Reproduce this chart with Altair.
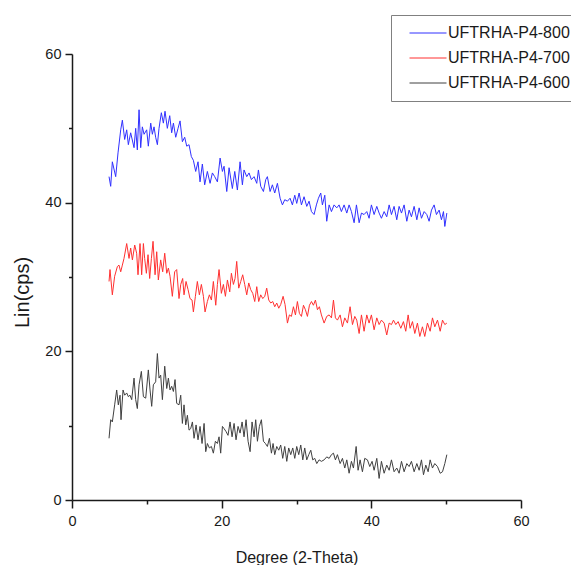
import altair as alt
import pandas as pd

labels = ["UFTRHA-P4-800", "UFTRHA-P4-700", "UFTRHA-P4-600"]
colors = ["#3030ff", "#ff3030", "#404040"]
x_ticks = [0, 10, 20, 30, 40, 50, 60]
y_ticks = [0, 10, 20, 30, 40, 50, 60]

x800 = [4.95, 5.17, 5.39, 5.84, 6.15, 6.51, 6.73, 7.04, 7.31, 7.53,
        7.84, 8.29, 8.51, 8.73, 8.96, 9.18, 9.40, 9.63, 9.98, 10.20,
        10.52, 10.74, 10.96, 11.18, 11.41, 11.63, 11.94, 12.21, 12.43, 12.74,
        13.06, 13.32, 13.55, 13.86, 14.17, 14.44, 14.75, 15.06, 15.33, 15.64,
        15.95, 16.22, 16.53, 16.84, 17.11, 17.42, 17.73, 18.09, 18.45, 18.76,
        19.07, 19.43, 19.79, 20.10, 20.32, 20.68, 20.99, 21.43, 21.75, 22.10,
        22.46, 22.77, 22.99, 23.35, 23.66, 23.97, 24.33, 24.69, 24.91, 25.22,
        25.58, 25.89, 26.11, 26.47, 26.78, 27.09, 27.45, 27.81, 28.12, 28.43,
        28.79, 29.14, 29.45, 29.77, 30.03, 30.35, 30.66, 31.01, 31.37, 31.68,
        32.00, 32.35, 32.66, 32.93, 33.24, 33.46, 33.78, 34.04, 34.36, 34.67,
        35.02, 35.38, 35.69, 36.00, 36.36, 36.72, 37.03, 37.34, 37.70, 38.01,
        38.37, 38.68, 39.03, 39.39, 39.70, 40.01, 40.37, 40.73, 41.04, 41.35,
        41.71, 42.06, 42.38, 42.69, 43.04, 43.40, 43.71, 44.03, 44.38, 44.74,
        45.05, 45.36, 45.72, 46.08, 46.39, 46.70, 47.06, 47.41, 47.72, 48.04,
        48.39, 48.70, 49.06, 49.37, 49.64, 49.82, 50.09]
y800 = [43.5, 42.2, 45.5, 43.5, 46.7, 49.8, 51.1, 48.5, 49.8, 47.8,
        49.4, 47.4, 50.0, 47.1, 52.5, 47.4, 50.2, 49.2, 49.8, 47.6,
        50.7, 49.2, 50.2, 48.8, 47.8, 50.0, 52.1, 50.7, 52.3, 50.0,
        51.7, 49.4, 50.7, 48.8, 50.0, 51.0, 48.2, 48.8, 47.6, 47.8,
        46.2, 45.7, 44.2, 45.5, 42.8, 45.2, 42.4, 44.2, 42.6, 44.0,
        43.5, 42.8, 46.0, 44.2, 44.9, 41.5, 44.7, 41.9, 44.2, 41.7,
        45.5, 42.4, 44.4, 43.5, 44.0, 43.1, 43.5, 42.6, 44.4, 42.2,
        41.5, 43.1, 43.5, 41.5, 42.4, 41.3, 42.6, 40.6, 39.7, 40.4,
        40.2, 40.6, 39.7, 41.0, 39.9, 41.3, 39.7, 40.8, 39.5, 40.2,
        38.8, 38.4, 39.7, 40.6, 41.3, 39.7, 41.0, 37.5, 39.7, 38.8,
        39.7, 39.3, 39.7, 38.8, 39.7, 38.6, 39.7, 38.8, 37.3, 39.7,
        37.3, 38.6, 38.4, 38.8, 37.9, 39.7, 38.4, 39.5, 38.6, 37.9,
        38.8, 38.1, 39.7, 38.4, 39.5, 37.7, 39.5, 38.6, 39.7, 37.5,
        39.0, 38.1, 39.5, 37.7, 39.3, 37.9, 38.8, 38.4, 37.5, 39.0,
        39.7, 38.4, 39.0, 37.7, 38.8, 36.8, 38.6]

x700 = [4.95, 5.08, 5.39, 5.70, 6.06, 6.28, 6.51, 6.73, 6.95, 7.31,
        7.62, 7.84, 8.07, 8.38, 8.64, 8.82, 9.09, 9.31, 9.54, 9.71,
        9.94, 10.16, 10.38, 10.61, 10.83, 11.10, 11.32, 11.54, 11.85, 12.12,
        12.39, 12.66, 12.88, 13.10, 13.41, 13.72, 13.99, 14.30, 14.53, 14.79,
        14.97, 15.24, 15.51, 15.77, 16.04, 16.22, 16.49, 16.75, 17.02, 17.29,
        17.56, 17.78, 18.09, 18.36, 18.63, 18.89, 19.21, 19.43, 19.65, 19.96,
        20.23, 20.50, 20.77, 21.08, 21.30, 21.57, 21.79, 22.01, 22.28, 22.55,
        22.81, 23.08, 23.35, 23.62, 23.88, 24.15, 24.42, 24.69, 24.95, 25.22,
        25.49, 25.76, 26.02, 26.29, 26.56, 26.83, 27.09, 27.36, 27.63, 27.89,
        28.21, 28.47, 28.79, 29.05, 29.32, 29.59, 29.86, 30.12, 30.39, 30.66,
        30.93, 31.19, 31.46, 31.73, 32.00, 32.26, 32.53, 32.80, 33.06, 33.33,
        33.69, 34.04, 34.36, 34.67, 34.94, 35.20, 35.47, 35.83, 36.14, 36.45,
        36.81, 37.16, 37.48, 37.79, 38.05, 38.37, 38.68, 39.03, 39.39, 39.70,
        40.01, 40.37, 40.73, 41.04, 41.35, 41.71, 42.06, 42.38, 42.69, 42.96,
        43.27, 43.58, 43.94, 44.29, 44.60, 44.92, 45.18, 45.50, 45.81, 46.16,
        46.48, 46.83, 47.14, 47.50, 47.86, 48.17, 48.48, 48.84, 49.20, 49.51,
        49.82, 50.09]
y700 = [29.4, 31.0, 27.6, 30.1, 31.4, 31.6, 30.7, 31.6, 32.5, 34.5,
        32.5, 33.9, 32.3, 34.3, 33.2, 30.3, 34.5, 30.3, 34.5, 32.5,
        30.5, 33.0, 29.8, 32.5, 34.8, 30.3, 33.4, 29.6, 32.3, 30.7,
        33.2, 30.5, 31.2, 30.1, 27.4, 30.7, 31.0, 27.1, 29.0, 29.8,
        27.6, 29.4, 28.3, 27.1, 26.9, 25.3, 27.4, 29.4, 27.6, 29.0,
        27.4, 25.3, 26.7, 27.6, 26.9, 29.4, 26.2, 29.0, 31.0, 27.8,
        29.0, 27.4, 29.6, 28.0, 30.5, 29.0, 29.8, 32.1, 28.5, 29.4,
        30.3, 29.0, 27.6, 29.2, 28.3, 27.8, 26.7, 28.7, 26.7, 27.6,
        27.1, 27.4, 28.5, 26.9, 26.5, 26.7, 26.0, 26.5, 25.8, 26.3,
        27.4, 26.3, 23.8, 24.9, 24.7, 26.0, 24.9, 26.7, 25.1, 24.7,
        26.2, 25.6, 24.7, 26.2, 26.7, 26.2, 26.9, 25.6, 26.0, 24.9,
        23.8, 24.7, 24.9, 24.5, 26.9, 24.5, 24.2, 24.9, 23.3, 24.5,
        23.8, 26.0, 23.6, 24.7, 24.2, 22.4, 24.9, 22.7, 24.9, 23.8,
        24.9, 22.9, 24.5, 23.6, 24.2, 23.8, 22.2, 23.8, 23.6, 24.2,
        23.6, 24.0, 23.1, 24.0, 22.7, 24.9, 23.1, 24.0, 22.4, 23.8,
        22.0, 23.3, 22.0, 23.8, 22.7, 24.5, 23.3, 24.2, 22.7, 24.2,
        23.6, 23.8]

x600 = [4.95, 5.17, 5.39, 5.70, 5.97, 6.19, 6.42, 6.55, 6.82, 7.04,
        7.31, 7.53, 7.75, 7.98, 8.29, 8.51, 8.73, 8.96, 9.27, 9.54,
        9.85, 10.20, 10.43, 10.65, 10.87, 11.18, 11.41, 11.63, 11.85, 12.08,
        12.39, 12.66, 12.88, 13.10, 13.32, 13.55, 13.77, 13.99, 14.30, 14.53,
        14.75, 14.97, 15.20, 15.42, 15.64, 15.86, 16.09, 16.31, 16.58, 16.84,
        17.11, 17.38, 17.65, 17.87, 18.09, 18.36, 18.63, 18.89, 19.16, 19.43,
        19.65, 19.87, 20.10, 20.32, 20.59, 20.85, 21.12, 21.39, 21.66, 21.92,
        22.19, 22.46, 22.73, 22.99, 23.26, 23.53, 23.80, 24.06, 24.33, 24.55,
        24.78, 25.04, 25.31, 25.58, 25.85, 26.11, 26.38, 26.65, 26.87, 27.09,
        27.36, 27.63, 27.89, 28.16, 28.43, 28.70, 28.96, 29.23, 29.50, 29.77,
        30.03, 30.30, 30.57, 30.84, 31.10, 31.37, 31.64, 31.91, 32.17, 32.44,
        32.71, 33.02, 33.33, 33.69, 34.04, 34.36, 34.67, 34.94, 35.20, 35.47,
        35.83, 36.14, 36.45, 36.72, 37.03, 37.34, 37.61, 37.97, 38.23, 38.50,
        38.81, 39.12, 39.48, 39.79, 40.10, 40.37, 40.73, 41.04, 41.35, 41.71,
        42.06, 42.38, 42.69, 43.04, 43.40, 43.71, 44.03, 44.38, 44.74, 45.05,
        45.36, 45.72, 46.08, 46.39, 46.70, 46.97, 47.28, 47.59, 47.86, 48.17,
        48.48, 48.84, 49.20, 49.51, 49.82, 50.09]
y600 = [8.3, 10.8, 10.5, 12.8, 14.8, 12.8, 14.1, 10.8, 14.8, 14.1,
        14.4, 13.9, 14.1, 13.5, 16.4, 13.5, 12.3, 15.5, 17.3, 13.9,
        13.7, 17.5, 14.8, 12.6, 15.5, 15.9, 19.7, 16.4, 16.8, 13.5,
        18.0, 15.0, 16.4, 14.8, 15.3, 14.6, 16.2, 13.0, 12.8, 14.1,
        10.3, 12.8, 10.1, 11.4, 9.4, 9.6, 10.5, 8.3, 10.1, 8.1,
        9.9, 7.6, 10.3, 6.5, 7.6, 7.0, 7.2, 6.3, 7.9, 7.6,
        8.5, 6.3, 9.9, 9.6, 9.2, 8.7, 10.5, 8.5, 10.3, 8.1,
        9.9, 9.0, 10.5, 8.5, 10.8, 7.9, 6.5, 10.5, 8.5, 10.8,
        7.9, 9.9, 10.8, 7.9, 7.6, 7.2, 8.3, 6.3, 7.6, 6.1,
        7.2, 6.7, 7.4, 5.6, 7.2, 5.2, 7.0, 6.1, 7.0, 5.6,
        7.2, 6.1, 7.4, 5.4, 7.0, 5.4, 6.1, 6.7, 5.4, 5.6,
        4.9, 5.4, 5.2, 5.4, 5.8, 5.6, 6.1, 6.3, 5.4, 6.1,
        4.9, 5.6, 4.3, 5.4, 3.6, 5.2, 4.3, 7.2, 4.0, 5.4,
        3.8, 5.6, 5.4, 4.5, 5.2, 4.0, 5.6, 2.9, 5.2, 3.6,
        4.7, 4.0, 5.4, 3.8, 4.3, 3.6, 5.2, 3.8, 4.9, 4.5,
        5.2, 3.8, 4.9, 4.0, 5.4, 3.4, 4.7, 3.8, 5.4, 4.3,
        4.9, 4.5, 3.6, 3.8, 4.9, 6.1]

rows = []
for lab, xs, ys in zip(labels, [x800, x700, x600], [y800, y700, y600]):
    for a, b in zip(xs, ys):
        rows.append({"series": lab, "deg": a, "cps": b})
df = pd.DataFrame(rows)

FONT = "Liberation Sans, Arial, sans-serif"
INK = "#1a1a1a"
MAJOR = "datum.value % 20 === 0"

x_scale = alt.Scale(domain=[0, 60], nice=False, zero=False)
y_scale = alt.Scale(domain=[0, 60], nice=False)

chart = alt.Chart(df).mark_line(strokeWidth=1).encode(
    x=alt.X("deg:Q", scale=x_scale, axis=alt.Axis(
        orient="bottom", values=x_ticks, grid=False, labelFlush=False,
        tickSize={"condition": {"test": MAJOR, "value": 8}, "value": 4},
        tickWidth=1.5, tickColor=INK,
        domainColor=INK, domainWidth=1.5,
        labelExpr=MAJOR + " ? datum.label : ''",
        labelFont=FONT, labelFontSize=14.5, labelColor=INK, labelPadding=6,
        title="Degree (2-Theta)", titleFont=FONT, titleFontSize=16,
        titleFontWeight="normal", titleColor=INK,
        titleY=62, titleBaseline="alphabetic")),
    y=alt.Y("cps:Q", scale=y_scale, axis=alt.Axis(
        orient="left", values=y_ticks, grid=False,
        tickSize={"condition": {"test": MAJOR, "value": 7}, "value": 3.5},
        tickWidth=1.5, tickColor=INK,
        domainColor=INK, domainWidth=1.5,
        labelExpr=MAJOR + " ? datum.label : ''",
        labelFont=FONT, labelFontSize=14.5, labelColor=INK, labelPadding=4,
        title="Lin(cps)", titleFont=FONT, titleFontSize=20,
        titleFontWeight="normal", titleColor=INK, titleAngle=270,
        titleX=-50, titleY=238, titleAlign="center", titleBaseline="middle")),
    color=alt.Color("series:N", scale=alt.Scale(domain=labels, range=colors),
                    legend=alt.Legend(
                        title=None, orient="none", legendX=319, legendY=-39,
                        direction="vertical", symbolType="stroke",
                        symbolSize=1369, symbolStrokeWidth=1,
                        clipHeight=20, rowPadding=5, padding=8,
                        strokeColor="#808080", fillColor="white",
                        symbolOffset=10, labelOffset=1, labelLimit=200,
                        labelFont=FONT, labelFontSize=16, labelColor=INK)),
).properties(
    width=449, height=446, background="white",
    autosize=alt.AutoSizeParams(type="none"),
    padding={"left": 64, "top": 46, "right": 50, "bottom": 65},
).configure_view(stroke=None)

chart.save("out.html", embed_options={"renderer": "svg", "actions": False})
